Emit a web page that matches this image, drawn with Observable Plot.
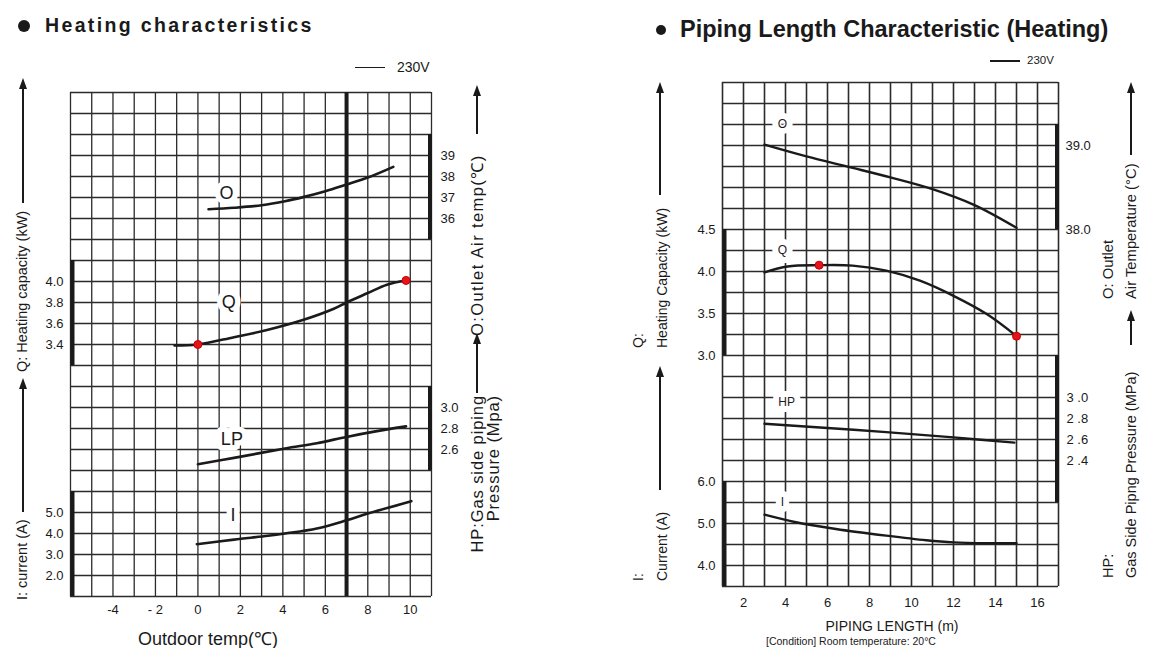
<!DOCTYPE html>
<html><head><meta charset="utf-8">
<script src="https://cdn.jsdelivr.net/npm/d3@7"></script>
<script src="https://cdn.jsdelivr.net/npm/@observablehq/plot@0.6"></script>
<style>
body{margin:0;background:#fff;}
#root{position:relative;width:1152px;height:648px;overflow:hidden;background:#fff;font-family:"Liberation Sans",Arial,sans-serif;color:#1a1a1a;}
.abs{position:absolute;white-space:nowrap;}
</style></head><body><div id="root"></div>
<script>
// ---------------- Left panel: Heating characteristics (x = outdoor temp, °C) ----------------
const outdoorTicks = [-4, -2, 0, 2, 4, 6, 8, 10];
const outdoorTickLabels = ["-4", "- 2", "0", "2", "4", "6", "8", "10"];
const ratedOutdoorTemp = [7];

const heatO_temp = [0.5, 1.7, 3.0, 4.1, 5.0, 6.0, 7.0, 8.0, 9.2];
const heatO_value = [36.44, 36.51, 36.63, 36.82, 37.03, 37.30, 37.62, 37.95, 38.46];
const heatQ_temp = [-1.1, 0, 1.7, 3.3, 4.9, 6.4, 7.0, 8.0, 8.9, 9.8];
const heatQ_value = [3.39, 3.40, 3.47, 3.54, 3.63, 3.74, 3.80, 3.89, 3.97, 4.01];
const heatLP_temp = [0, 1.7, 4.1, 5.6, 7.0, 8.3, 9.8];
const heatLP_value = [2.46, 2.52, 2.61, 2.66, 2.72, 2.77, 2.82];
const heatI_temp = [-0.05, 1.7, 3.3, 4.1, 5.6, 7.0, 8.0, 10.05];
const heatI_value = [3.49, 3.71, 3.89, 4.0, 4.24, 4.63, 4.95, 5.54];
const heatQ_marked_temp = [0, 9.8];
const heatQ_marked_value = [3.40, 4.01];

const heatO_ticks = [39, 38, 37, 36];
const heatO_tickLabels = ["39", "38", "37", "36"];
const heatQ_ticks = [4.0, 3.8, 3.6, 3.4];
const heatQ_tickLabels = ["4.0", "3.8", "3.6", "3.4"];
const heatLP_ticks = [3.0, 2.8, 2.6];
const heatLP_tickLabels = ["3.0", "2.8", "2.6"];
const heatI_ticks = [5, 4, 3, 2];
const heatI_tickLabels = ["5.0", "4.0", "3.0", "2.0"];

// ---------------- Right panel: Piping length characteristic (x = piping length, m) ----------------
const pipeTicks = [2, 4, 6, 8, 10, 12, 14, 16];
const pipeTickLabels = ["2", "4", "6", "8", "10", "12", "14", "16"];

const pipeO_len = [3.0, 5.0, 7.1, 9.0, 11.0, 13.0, 15.0];
const pipeO_value = [39.01, 38.87, 38.74, 38.62, 38.48, 38.29, 38.02];
const pipeQ_len = [3.0, 4.1, 5.6, 7.2, 8.8, 10.4, 12.0, 13.6, 15.0];
const pipeQ_value = [3.99, 4.06, 4.075, 4.07, 4.01, 3.89, 3.71, 3.49, 3.23];
const pipeHP_len = [3.0, 6.0, 8.8, 12.0, 14.9];
const pipeHP_value = [2.75, 2.71, 2.67, 2.62, 2.57];
const pipeI_len = [3.0, 4.5, 6.4, 8.8, 10.7, 12.0, 13.6, 15.0];
const pipeI_value = [5.21, 5.03, 4.87, 4.71, 4.60, 4.55, 4.53, 4.53];
const pipeQ_marked_len = [5.6, 15.0];
const pipeQ_marked_value = [4.075, 3.23];

const pipeO_ticks = [39.0, 38.0];
const pipeO_tickLabels = ["39.0", "38.0"];
const pipeQ_ticks = [4.5, 4.0, 3.5, 3.0];
const pipeQ_tickLabels = ["4.5", "4.0", "3.5", "3.0"];
const pipeHP_ticks = [3.0, 2.8, 2.6, 2.4];
const pipeHP_tickLabels = ["3 .0", "2 .8", "2 .6", "2 .4"];
const pipeI_ticks = [6.0, 5.0, 4.0];
const pipeI_tickLabels = ["6.0", "5.0", "4.0"];

// ---------------- helpers ----------------
const root = document.getElementById("root");
const FONT = '"Liberation Sans", Arial, sans-serif';
const INK = "#1a1a1a";
const GRID = "#2b2b2b";
const rows = d3.range(0, 25);
const table = (xs, vs) => xs.map((x, i) => ({x, v: vs[i]}));
const lookup = (ticks, labels) => d => labels[ticks.indexOf(d)];

function place(svg, cfg) {
  svg.style.position = "absolute";
  svg.style.left = cfg.left + "px";
  svg.style.top = cfg.top + "px";
  root.appendChild(svg);
}
function frame(cfg) {
  return {width: cfg.width, height: cfg.height, marginLeft: cfg.ml, marginRight: cfg.mr,
    marginTop: cfg.mt, marginBottom: cfg.mb};
}
const style = {background: "transparent", fontFamily: FONT, color: INK, overflow: "visible"};

function baseLayer(cfg, xTicks, xLabels, extra) {
  const svg = Plot.plot({
    ...frame(cfg), style,
    x: {domain: cfg.xDomain, axis: null},
    y: {domain: [0, 24], reverse: true, axis: null},
    marks: [
      Plot.ruleX(d3.range(cfg.xDomain[0], cfg.xDomain[1] + 1), {stroke: GRID, strokeWidth: cfg.gridW}),
      Plot.ruleY(rows, {stroke: GRID, strokeWidth: cfg.gridW}),
      ...(extra || []),
      Plot.axisX(xTicks, {tickSize: 0, tickPadding: cfg.xPad, tickFormat: lookup(xTicks, xLabels),
        fontSize: 13, label: null})
    ]
  });
  place(svg, cfg);
}

function seriesLayer(cfg, s) {
  const edge = s.anchor === "left" ? cfg.xDomain[0] : cfg.xDomain[1];
  const marks = [
    Plot.ruleX([edge], {y1: s.bar[0], y2: s.bar[1], stroke: INK, strokeWidth: 4,
      dx: s.anchor === "left" ? 2 : -1.5}),
    Plot.line(s.data, {x: "x", y: "v", curve: s.curve || "catmull-rom", stroke: INK, strokeWidth: cfg.lineW}),
    Plot.text([s.label], {x: "x", y: "v", text: "t", fontSize: cfg.labelSize, fill: INK,
      stroke: "white", strokeWidth: cfg.halo, paintOrder: "stroke"}),
    Plot.axisY(s.ticks, {anchor: s.anchor, tickSize: 0, tickPadding: s.pad,
      tickFormat: lookup(s.ticks, s.tickLabels), fontSize: 13, label: null})
  ];
  if (s.dots) marks.push(Plot.dot(s.dots, {x: "x", y: "v", r: 4, fill: "#e5141b", stroke: "#c80000", strokeWidth: 1}));
  const svg = Plot.plot({
    ...frame(cfg), style,
    x: {domain: cfg.xDomain, axis: null},
    y: {domain: s.domain},
    marks
  });
  place(svg, cfg);
}

function html(text, css) {
  const d = document.createElement("div");
  d.className = "abs";
  d.style.cssText += css;
  d.innerHTML = text;
  root.appendChild(d);
  return d;
}
function vtext(lines, o) {
  html(lines.map(l => `<div>${l}</div>`).join(""),
    `left:${o.x}px;top:${o.yBottom}px;width:${o.len}px;transform-origin:0 0;transform:rotate(-90deg);` +
    `font-size:${o.size}px;line-height:${o.lh}px;text-align:${o.align || "left"};letter-spacing:${o.ls || 0}px;`);
}
function varrow(x, tip, end, w) {
  const hw = 4.5, hh = 11;
  html("", `left:${x - 0.6}px;top:${tip + hh - 1}px;width:${w || 1.3}px;height:${end - tip - hh + 1}px;background:${INK};`);
  html("", `left:${x - hw}px;top:${tip}px;width:0;height:0;border-left:${hw}px solid transparent;` +
    `border-right:${hw}px solid transparent;border-bottom:${hh}px solid ${INK};`);
}

// ---------------- Left panel ----------------
const LC = {left: 0, top: 0, width: 560, height: 648, ml: 70, mr: 129, mt: 92, mb: 52,
  xDomain: [-6, 11], gridW: 1.3, lineW: 2.6, labelSize: 18, halo: 11, xPad: 8};
baseLayer(LC, outdoorTicks, outdoorTickLabels,
  [Plot.ruleX(ratedOutdoorTemp, {stroke: INK, strokeWidth: 4})]);
seriesLayer(LC, {domain: [18, 42], data: table(heatO_temp, heatO_value), anchor: "right", pad: 9,
  bar: [35, 40], ticks: heatO_ticks, tickLabels: heatO_tickLabels, label: {x: 1.35, v: 37.2, t: "O"}});
seriesLayer(LC, {domain: [1.0, 5.8], data: table(heatQ_temp, heatQ_value), anchor: "left", pad: 7,
  bar: [3.2, 4.2], ticks: heatQ_ticks, tickLabels: heatQ_tickLabels, label: {x: 1.45, v: 3.8, t: "Q"},
  dots: table(heatQ_marked_temp, heatQ_marked_value)});
seriesLayer(LC, {domain: [1.2, 6.0], data: table(heatLP_temp, heatLP_value), anchor: "right", pad: 9,
  bar: [2.4, 3.2], ticks: heatLP_ticks, tickLabels: heatLP_tickLabels, label: {x: 1.6, v: 2.70, t: "LP"}});
seriesLayer(LC, {domain: [1, 25], data: table(heatI_temp, heatI_value), anchor: "left", pad: 7,
  bar: [1, 6], ticks: heatI_ticks, tickLabels: heatI_tickLabels, label: {x: 1.65, v: 4.85, t: "I"}});

// ---------------- Right panel ----------------
const RC = {left: 580, top: 0, width: 572, height: 648, ml: 142, mr: 94, mt: 82, mb: 62,
  xDomain: [1, 17], gridW: 1.6, lineW: 2.4, labelSize: 12, halo: 12, xPad: 11};
baseLayer(RC, pipeTicks, pipeTickLabels);
seriesLayer(RC, {domain: [33.75, 39.75], data: table(pipeO_len, pipeO_value), anchor: "right", pad: 7,
  bar: [38.0, 39.25], ticks: pipeO_ticks, tickLabels: pipeO_tickLabels, label: {x: 3.85, v: 39.25, t: "O"}});
seriesLayer(RC, {domain: [0.25, 6.25], data: table(pipeQ_len, pipeQ_value), anchor: "left", pad: 7,
  bar: [3.0, 4.5], ticks: pipeQ_ticks, tickLabels: pipeQ_tickLabels, label: {x: 3.85, v: 4.25, t: "Q"},
  dots: table(pipeQ_marked_len, pipeQ_marked_value)});
seriesLayer(RC, {domain: [1.2, 6.0], data: table(pipeHP_len, pipeHP_value), anchor: "right", pad: 8,
  bar: [2.0, 3.4], ticks: pipeHP_ticks, tickLabels: pipeHP_tickLabels, label: {x: 4.05, v: 2.96, t: "HP"}});
seriesLayer(RC, {domain: [3.5, 15.5], data: table(pipeI_len, pipeI_value), anchor: "left", pad: 7,
  bar: [3.5, 6.0], ticks: pipeI_ticks, tickLabels: pipeI_tickLabels, label: {x: 3.85, v: 5.5, t: "I"}});

// ---------------- Titles, legends, axis titles ----------------
html("", `left:18px;top:20px;width:12px;height:12px;border-radius:50%;background:${INK};`);
html("Heating characteristics", `left:45px;top:14px;font-size:19.5px;font-weight:bold;letter-spacing:2.35px;`);
html("", `left:656px;top:25px;width:10px;height:10px;border-radius:50%;background:${INK};`);
html("Piping Length Characteristic (Heating)", `left:680px;top:16px;font-size:23.5px;font-weight:bold;`);

html("", `left:355px;top:66.5px;width:30px;height:1.3px;background:${INK};`);
html("230V", `left:397px;top:59px;font-size:14px;`);
html("", `left:990px;top:60px;width:30px;height:2.4px;background:${INK};`);
html("230V", `left:1027px;top:54px;font-size:11.5px;`);

html("Outdoor temp(℃)", `left:208px;top:626px;transform:translateX(-50%);font-size:18px;`);
html("PIPING LENGTH (m)", `left:892px;top:618px;transform:translateX(-50%);font-size:14px;`);
html("[Condition] Room temperature: 20°C", `left:766px;top:635px;font-size:10.5px;`);

// left panel axis titles
vtext(["Q: Heating capacity (kW)"], {x: 13, yBottom: 372, len: 175, size: 14.5, lh: 18});
varrow(23, 78, 203);
vtext(["I: current (A)"], {x: 13, yBottom: 600, len: 95, size: 14.5, lh: 18});
varrow(23, 378, 512);
vtext(["O:Outlet Air temp(℃)"], {x: 468, yBottom: 336, len: 210, size: 16.5, lh: 18, ls: 1.4});
varrow(477, 85, 134);
vtext(["HP:Gas side piping", "Pressure (Mpa)"], {x: 469, yBottom: 555, len: 160, size: 16.5, lh: 16, align: "right", ls: 0.9});
varrow(477, 333, 393);

// right panel axis titles
vtext(["Q:", "Heating Capacity (kW)"], {x: 626, yBottom: 348, len: 160, size: 14, lh: 24});
varrow(660, 82, 195);
vtext(["I:", "Current (A)"], {x: 626, yBottom: 581, len: 100, size: 14, lh: 24});
varrow(660, 366, 490);
vtext(["O: Outlet", "Air Temperature (°C)"], {x: 1096.5, yBottom: 299, len: 170, size: 14.8, lh: 23});
varrow(1131, 82, 155);
vtext(["HP:", "Gas Side Pipng Pressure (MPa)"], {x: 1096.5, yBottom: 578, len: 230, size: 14.5, lh: 23});
varrow(1131, 310, 345);
</script></body></html>
